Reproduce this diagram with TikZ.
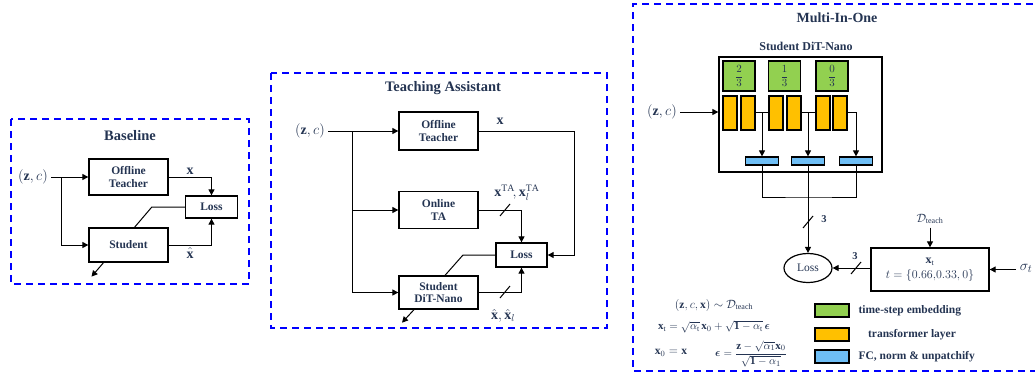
\documentclass[tikz,border=0pt]{standalone}
\usepackage{amsmath,amssymb}
\usepackage{fontspec}
\setmainfont{Liberation Serif}
\usetikzlibrary{arrows.meta,shapes.geometric}

\definecolor{txt}{RGB}{36,52,82}
\definecolor{tsgreen}{RGB}{146,208,80}
\definecolor{trorange}{RGB}{255,192,0}
\definecolor{fcblue}{RGB}{110,190,245}

\begin{document}
\begin{tikzpicture}[x=1pt,y=-1pt,
    box/.style={draw,line width=1.3pt,fill=white,align=center,inner sep=0pt,
      font=\fontsize{11.5}{12.5}\selectfont\bfseries,text=txt},
    panel/.style={draw=blue,line width=1.6pt,dash pattern=on 7pt off 5pt},
    ttl/.style={font=\fontsize{14.5}{16}\selectfont\bfseries,text=txt},
    lbl/.style={text=txt,font=\fontsize{14}{15}\selectfont},
    arr/.style={-{Triangle[length=6pt,width=6pt]},line width=1pt},
    con/.style={line width=1pt},
    cell/.style={draw,line width=1.2pt,inner sep=0pt},
    small/.style={text=txt,font=\fontsize{11.5}{12.5}\selectfont}]
  \useasboundingbox (0,0) rectangle (1035,381);

  % Baseline
  \draw[panel] (11,119) rectangle (249,284);
  \node[ttl] (t1) at (130,136) {Baseline};
  \node[lbl] (zc1) at (33,177) {$(\mathbf{z},c)$};
  \node[box,minimum width=79pt,minimum height=36pt] (off1) at (128.5,177) {Offline\\Teacher};
  \node[box,minimum width=79pt,minimum height=34pt] (stu1) at (128.5,245) {Student};
  \node[box,minimum width=52pt,minimum height=22pt] (loss1) at (211.5,207) {Loss};
  \coordinate (b1) at (61,177);
  \draw[arr] (zc1.east) -- (off1.west);
  \draw[arr] (b1) |- (stu1.west);
  \draw[arr] (off1.east) -| (loss1.north) node[pos=0.25,above=-1pt,lbl] {$\mathbf{x}$};
  \draw[arr] (stu1.east) -| (loss1.south) node[pos=0.25,below=-1pt,lbl] {$\hat{\mathbf{x}}$};
  \draw[con] (loss1.west) -- ++(-33,0) -- ([xshift=6pt]stu1.north);
  \draw[arr] ([xshift=-25pt]stu1.south) -- ++(-12,14);

  % Teaching Assistant
  \draw[panel] (271,73) rectangle (607,328);
  \node[ttl] (t2) at (443,88) {Teaching Assistant};
  \node[lbl] (zc2) at (310,131) {$(\mathbf{z},c)$};
  \node[box,minimum width=79pt,minimum height=38pt] (off2) at (438.5,131) {Offline\\Teacher};
  \node[box,minimum width=79pt,minimum height=37pt] (ta2) at (438.5,210) {Online\\TA};
  \node[box,minimum width=79pt,minimum height=33pt] (stu2) at (438.5,292.5) {Student\\DiT-Nano};
  \node[box,minimum width=51pt,minimum height=24pt] (loss2) at (521.5,255) {Loss};
  \coordinate (b2) at (352,131);
  \coordinate (r2) at (574,131);
  \draw[arr] (zc2.east) -- (off2.west);
  \draw[arr] (b2) |- (ta2.west);
  \draw[arr] (b2) |- (stu2.west);
  \draw[arr] (off2.east) -- (r2) |- (loss2.east);
  \node[lbl] at (500,121) {$\mathbf{x}$};
  \draw[arr] (ta2.east) -| (loss2.north);
  \draw[con] (500,216) -- (510,204);
  \node[lbl] at (517,193) {$\mathbf{x}^{\mathrm{TA}}\!,\mathbf{x}_l^{\mathrm{TA}}$};
  \draw[arr] (stu2.east) -| (loss2.south);
  \draw[con] (500,298) -- (510,286);
  \node[lbl] at (503,316) {$\hat{\mathbf{x}},\hat{\mathbf{x}}_l$};
  \draw[con] (loss2.west) -- (463,255) -- ([xshift=6.5pt]stu2.north);
  \draw[arr] ([xshift=-24.5pt]stu2.south) -- ++(-12,13);

  % Multi-In-One
  \draw[panel] (1045,4) -- (633,4) -- (633,371) -- (1045,371);
  \node[ttl,font=\fontsize{14}{15}\selectfont\bfseries] (t3) at (837,18) {Multi-In-One};
  \node[text=txt,font=\fontsize{12}{13}\selectfont\bfseries] (sl) at (806,46) {Student DiT-Nano};
  \node[draw,line width=1.3pt,minimum width=163pt,minimum height=115pt,inner sep=0pt] (stud3) at (800.5,114.5) {};
  \foreach \x/\n/\f in {739/1/2,784.5/2/1,832/3/0}
    \node[cell,fill=tsgreen,minimum width=32pt,minimum height=30pt,text=txt,font=\fontsize{10.5}{11}\selectfont] (g\n) at (\x,76) {$\dfrac{\f}{3}$};
  \foreach \x/\n in {730/1,748/2,776/3,794/4,823/5,840/6}
    \node[cell,fill=trorange,minimum width=14pt,minimum height=34pt] (o\n) at (\x,113) {};
  \foreach \x/\n in {762/1,808/2,856/3}
    \node[cell,fill=fcblue,minimum width=33pt,minimum height=8pt] (f\n) at (\x,161) {};
  \node[lbl] (zc3) at (662,112) {$(\mathbf{z},c)$};
  \draw[arr] (zc3.east) -- (zc3.east -| stud3.west);
  \draw[con] (o2.east |- 0,112) -- (o3.west |- 0,112);
  \draw[con] (o4.east |- 0,112) -- (o5.west |- 0,112);
  \draw[arr] (o2.east |- 0,112) -| (f1.north);
  \draw[arr] (o4.east |- 0,112) -| (f2.north);
  \draw[arr] (o6.east |- 0,112) -| (f3.north);
  \coordinate (j3) at (808,197);
  \draw[con] (f1.south) |- (j3) -| (f3.south);
  \node[draw,ellipse,line width=1.2pt,minimum width=48pt,minimum height=29pt,inner sep=0pt,text=txt,font=\fontsize{11.5}{12}\selectfont] (loss3) at (808,268) {Loss};
  \draw[arr] (f2.south) -- (loss3.north);
  \draw[con] (803,228) -- (813,216);
  \node[small,font=\fontsize{10.5}{11}\selectfont\bfseries] at (824,219) {3};
  \node[draw,line width=1.3pt,minimum width=118pt,minimum height=43pt,inner sep=0pt,align=center,text=txt,font=\fontsize{12}{13.5}\selectfont] (xt) at (930,269.5) {$\mathbf{x}_{\mathrm{t}}$\\[1pt]$t=\{0.66{,}0.33,0\}$};
  \draw[arr] (xt.west |- loss3) -- (loss3.east);
  \draw[con] (851,274) -- (861,262);
  \node[small,font=\fontsize{10.5}{11}\selectfont\bfseries] at (855,256) {3};
  \node[small] (dt) at (930,219) {$\mathcal{D}_{\mathrm{teach}}$};
  \draw[arr] (dt.south) -- (dt.south |- xt.north);
  \node[lbl,font=\fontsize{15}{16}\selectfont] (sig) at (1026,268) {$\sigma_t$};
  \draw[arr] (sig.west |- xt) -- (xt.east);

  % legend
  \node[cell,fill=tsgreen,minimum width=34pt,minimum height=13pt] (l1) at (832,310.5) {};
  \node[cell,fill=trorange,minimum width=34pt,minimum height=13pt] (l2) at (832,334.5) {};
  \node[cell,fill=fcblue,minimum width=34pt,minimum height=13pt] (l3) at (832,356.5) {};
  \node[anchor=west,small,font=\fontsize{11.5}{12.5}\selectfont\bfseries] at (855,311) {time-step embedding};
  \node[small,font=\fontsize{11.5}{12.5}\selectfont\bfseries] at (912,335) {transformer layer};
  \node[anchor=west,small,font=\fontsize{11.5}{12.5}\selectfont\bfseries] at (855,357) {FC, norm \& unpatchify};

  % equations
  \node[small] (eq1) at (714,305) {$(\mathbf{z},c,\mathbf{x})\sim\mathcal{D}_{\mathrm{teach}}$};
  \node[small,font=\fontsize{11}{12}\selectfont] (eq2) at (714,327) {$\mathbf{x}_{\mathrm{t}}=\sqrt{\alpha_{\mathrm{t}}}\,\mathbf{x}_0+\sqrt{\mathbf{1}-\alpha_{\mathrm{t}}}\,\boldsymbol{\epsilon}$};
  \node[small] (eq3) at (671,353) {$\mathbf{x}_0=\mathbf{x}$};
  \node[small,font=\fontsize{11}{12}\selectfont] (eq4) at (751,354) {$\boldsymbol{\epsilon}=\dfrac{\mathbf{z}-\sqrt{\alpha_1}\mathbf{x}_0}{\sqrt{\mathbf{1}-\alpha_1}}$};
\end{tikzpicture}
\end{document}
